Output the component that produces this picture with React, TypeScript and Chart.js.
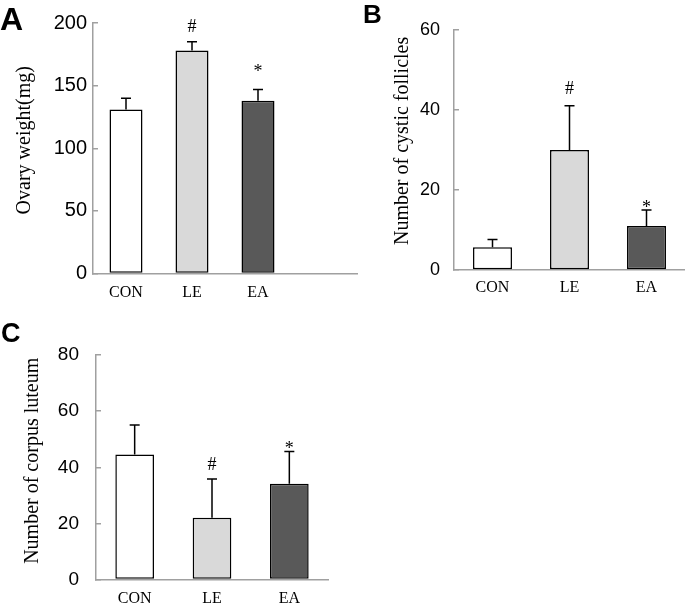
import React, { useEffect, useRef } from "react";
import { Chart, registerables } from "chart.js";

Chart.register(...registerables);

const groups = ["CON", "LE", "EA"];
const barColors = ["#ffffff", "#d9d9d9", "#595959"];

const ovaryWeight = [131, 178, 138];
const ovaryWeightSD = [9, 7, 9];
const ovaryMarks = ["", "#", "*"];

const cysticFollicles = [5.7, 30, 11];
const cysticFolliclesSD = [1.9, 11, 4];
const cysticMarks = ["", "#", "*"];

const corpusLuteum = [44.6, 22, 34.1];
const corpusLuteumSD = [10.5, 13.8, 11.5];
const luteumMarks = ["", "#", "*"];

const SERIF = "'Liberation Serif', 'Times New Roman', serif";
const SANS = "'Liberation Sans', Arial, sans-serif";
const AXIS = "#a0a0a0";

type PanelCfg = {
  labels: string[];
  values: (number | null)[];
  errors: (number | null)[];
  marks: string[];
  colors: string[];
  yMax: number;
  step: number;
  yTitle: string;
  yAxisWidth: number;
  tickPad: number;
  titleX: number;
  titleShift: number;
  tickFont: number;
  padTop: number;
  padRight: number;
  xHeight: number;
  xPad: number;
  barPct: number;
  gaps: number[];
};

function BarPanel(props: { left: number; top: number; width: number; height: number; cfg: PanelCfg }) {
  const ref = useRef<HTMLCanvasElement | null>(null);
  const { left, top, width, height, cfg } = props;
  useEffect(() => {
    const errorBars = {
      id: "errorBars",
      afterDatasetsDraw(chart: any) {
        const ctx = chart.ctx;
        const yScale = chart.scales.y;
        const meta = chart.getDatasetMeta(0);
        ctx.save();
        meta.data.forEach((bar: any, i: number) => {
          const v = cfg.values[i];
          const e = cfg.errors[i];
          if (v == null || e == null) return;
          const yTop = yScale.getPixelForValue(v + e);
          const x = bar.x;
          ctx.strokeStyle = "#000";
          ctx.lineWidth = 1.5;
          ctx.beginPath();
          ctx.moveTo(x, bar.y);
          ctx.lineTo(x, yTop);
          ctx.moveTo(x - 5, yTop);
          ctx.lineTo(x + 5, yTop);
          ctx.stroke();
          if (cfg.marks[i]) {
            ctx.fillStyle = "#000";
            ctx.font = `18px ${SERIF}`;
            ctx.textAlign = "center";
            ctx.textBaseline = "alphabetic";
            ctx.fillText(cfg.marks[i], x, yTop - cfg.gaps[i]);
          }
        });
        ctx.restore();
      },
    };
    const yTitle = {
      id: "yTitle",
      afterDraw(chart: any) {
        const ctx = chart.ctx;
        const area = chart.chartArea;
        ctx.save();
        ctx.translate(cfg.titleX, (area.top + area.bottom) / 2 - cfg.titleShift);
        ctx.rotate(-Math.PI / 2);
        ctx.fillStyle = "#000";
        ctx.font = `20px ${SERIF}`;
        ctx.textAlign = "center";
        ctx.textBaseline = "middle";
        ctx.fillText(cfg.yTitle, 0, 0);
        ctx.restore();
      },
    };
    const chart = new Chart(ref.current as HTMLCanvasElement, {
      type: "bar",
      data: {
        labels: cfg.labels,
        datasets: [
          {
            data: cfg.values as any,
            backgroundColor: cfg.colors,
            borderColor: "#000",
            borderWidth: 1.5,
            borderSkipped: false,
            categoryPercentage: 1,
            barPercentage: cfg.barPct,
          },
        ],
      },
      options: {
        responsive: false,
        animation: false,
        events: [],
        layout: {
          autoPadding: false,
          padding: { top: cfg.padTop, right: cfg.padRight, left: 0, bottom: 0 },
        },
        plugins: { legend: { display: false }, tooltip: { enabled: false } },
        scales: {
          x: {
            grid: { display: true, drawOnChartArea: false, drawTicks: false, color: AXIS },
            border: { display: true, color: AXIS, width: 1.5 },
            ticks: { font: { family: SERIF, size: 16 }, color: "#000", padding: cfg.xPad, maxRotation: 0 },
            afterFit: (s: any) => {
              s.height = cfg.xHeight;
            },
          },
          y: {
            min: 0,
            max: cfg.yMax,
            ticks: { stepSize: cfg.step, font: { family: SANS, size: cfg.tickFont }, color: "#000", padding: cfg.tickPad },
            grid: { drawOnChartArea: false, drawTicks: true, tickLength: -5, color: AXIS, lineWidth: 1.5 },
            border: { display: true, color: AXIS, width: 1.5 },
            title: { display: false },
            afterFit: (s: any) => {
              s.width = cfg.yAxisWidth;
            },
          },
        },
      },
      plugins: [errorBars, yTitle],
    });
    return () => chart.destroy();
  }, []);
  return (
    <canvas
      ref={ref}
      width={width}
      height={height}
      style={{ position: "absolute", left, top, width, height }}
    />
  );
}

const panelA: PanelCfg = {
  labels: [...groups, ""],
  values: [...ovaryWeight, null],
  errors: [...ovaryWeightSD, null],
  marks: [...ovaryMarks, ""],
  colors: [...barColors, "#ffffff"],
  yMax: 200,
  step: 50,
  yTitle: "Ovary weight(mg)",
  yAxisWidth: 93,
  tickPad: 11,
  titleX: 25,
  titleShift: 8,
  tickFont: 20,
  padTop: 22,
  padRight: 3,
  xHeight: 26.5,
  xPad: 10,
  barPct: 0.5,
  gaps: [0, 10, 12],
};

const panelB: PanelCfg = {
  labels: groups,
  values: cysticFollicles,
  errors: cysticFolliclesSD,
  marks: cysticMarks,
  colors: barColors,
  yMax: 60,
  step: 20,
  yTitle: "Number of cystic follicles",
  yAxisWidth: 94,
  tickPad: 19,
  titleX: 43,
  titleShift: 9,
  tickFont: 18,
  padTop: 12.7,
  padRight: 0,
  xHeight: 30,
  xPad: 8,
  barPct: 0.506,
  gaps: [0, 12, -3],
};

const panelC: PanelCfg = {
  labels: groups,
  values: corpusLuteum,
  errors: corpusLuteumSD,
  marks: luteumMarks,
  colors: barColors,
  yMax: 80,
  step: 20,
  yTitle: "Number of corpus luteum",
  yAxisWidth: 96,
  tickPad: 22,
  titleX: 33,
  titleShift: 6.5,
  tickFont: 19,
  padTop: 55,
  padRight: 12,
  xHeight: 24.7,
  xPad: 9.5,
  barPct: 0.5,
  gaps: [0, 9, -2],
};

const letterStyle = (left: number, top: number, size: number): React.CSSProperties => ({
  position: "absolute",
  left,
  top,
  fontFamily: SANS,
  fontWeight: "bold",
  fontSize: size,
  lineHeight: 1,
  color: "#000",
});

export default function App() {
  return (
    <div style={{ position: "absolute", left: 0, top: 0, width: 685, height: 613, background: "#fff", overflow: "hidden" }}>
      <BarPanel left={0} top={0} width={360} height={300} cfg={panelA} />
      <BarPanel left={360} top={0} width={325} height={300} cfg={panelB} />
      <BarPanel left={0} top={300} width={340} height={313} cfg={panelC} />
      <div style={letterStyle(0, 3, 32)}>A</div>
      <div style={letterStyle(363, 1, 26)}>B</div>
      <div style={letterStyle(1, 320, 27)}>C</div>
    </div>
  );
}
